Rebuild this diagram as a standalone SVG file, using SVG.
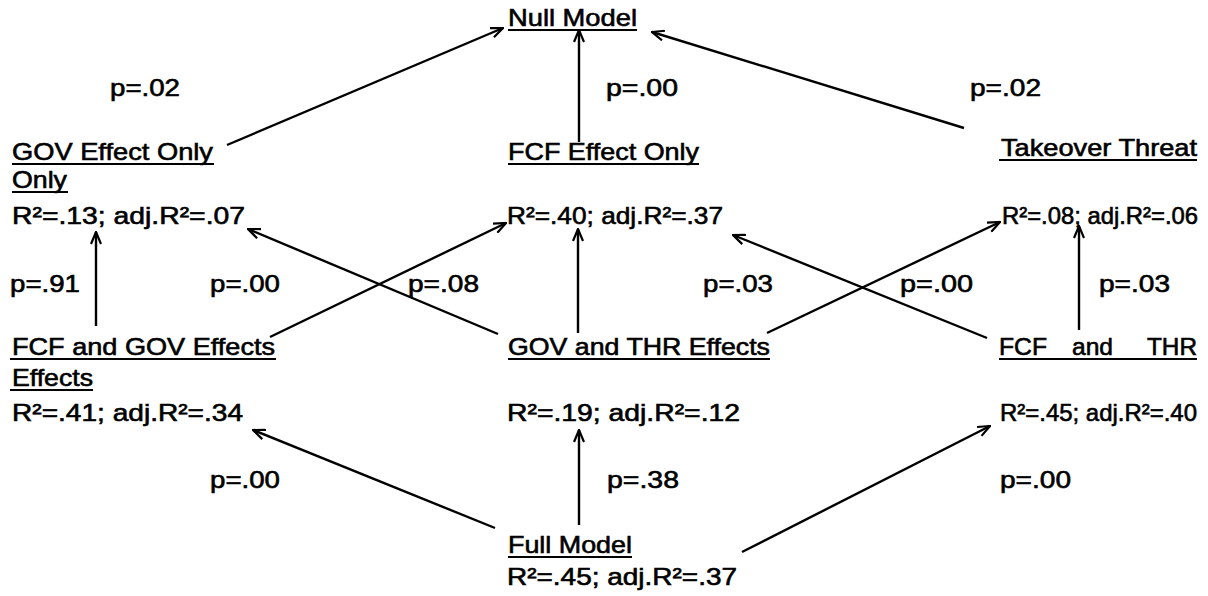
<svg xmlns="http://www.w3.org/2000/svg" width="1208" height="596" viewBox="0 0 1208 596">
  <style>
    text { font-family: "Liberation Sans", Arial, sans-serif; font-size: 24px; fill: #000; stroke: #000; stroke-width: 0.6px; }
    .ul { stroke: #000; stroke-width: 2; }
    .edge { stroke: #000; stroke-width: 2.4; fill: none; marker-end: url(#arrow); }
  </style>
  <defs>
    <marker id="arrow" viewBox="0 0 14 12" refX="13" refY="6" markerWidth="14" markerHeight="12" markerUnits="userSpaceOnUse" orient="auto">
      <path d="M1,1 L13,6 L1,11" fill="none" stroke="#000" stroke-width="2.2"/>
    </marker>
  </defs>
  <rect width="1208" height="596" fill="#fff"/>

  <!-- connectors -->
  <g id="connectors">
    <line class="edge" x1="227" y1="145" x2="503" y2="28"/>
    <line class="edge" x1="579" y1="142" x2="579" y2="30"/>
    <line class="edge" x1="964" y1="128" x2="652" y2="32"/>
    <line class="edge" x1="96" y1="326" x2="96" y2="232"/>
    <line class="edge" x1="498" y1="334" x2="248" y2="229"/>
    <line class="edge" x1="270" y1="337" x2="506" y2="223"/>
    <line class="edge" x1="578" y1="333" x2="578" y2="229"/>
    <line class="edge" x1="987" y1="338" x2="733" y2="235"/>
    <line class="edge" x1="767" y1="333" x2="1000" y2="222"/>
    <line class="edge" x1="1079" y1="330" x2="1079" y2="226"/>
    <line class="edge" x1="495" y1="528" x2="253" y2="430"/>
    <line class="edge" x1="579" y1="525" x2="579" y2="430"/>
    <line class="edge" x1="742" y1="552" x2="990" y2="426"/>
  </g>

  <!-- p-values on the connectors -->
  <g id="pvalues">
    <text x="110" y="96" textLength="70" lengthAdjust="spacingAndGlyphs">p=.02</text>
    <text x="606" y="96" textLength="72" lengthAdjust="spacingAndGlyphs">p=.00</text>
    <text x="970" y="96" textLength="71" lengthAdjust="spacingAndGlyphs">p=.02</text>
    <text x="10" y="292" textLength="70" lengthAdjust="spacingAndGlyphs">p=.91</text>
    <text x="210" y="292" textLength="70" lengthAdjust="spacingAndGlyphs">p=.00</text>
    <text x="408" y="292" textLength="71" lengthAdjust="spacingAndGlyphs">p=.08</text>
    <text x="703" y="292" textLength="70" lengthAdjust="spacingAndGlyphs">p=.03</text>
    <text x="900" y="292" textLength="73" lengthAdjust="spacingAndGlyphs">p=.00</text>
    <text x="1099" y="292" textLength="71" lengthAdjust="spacingAndGlyphs">p=.03</text>
    <text x="210" y="488" textLength="70" lengthAdjust="spacingAndGlyphs">p=.00</text>
    <text x="607" y="488" textLength="72" lengthAdjust="spacingAndGlyphs">p=.38</text>
    <text x="1000" y="488" textLength="71" lengthAdjust="spacingAndGlyphs">p=.00</text>
  </g>

  <!-- models -->
  <g id="null-model">
    <text x="508" y="26" textLength="129" lengthAdjust="spacingAndGlyphs">Null Model</text>
    <line class="ul" x1="508" y1="30" x2="637" y2="30"/>
  </g>

  <g id="gov-only">
    <text x="12" y="160" textLength="201" lengthAdjust="spacingAndGlyphs">GOV Effect Only</text>
    <line class="ul" x1="12" y1="164" x2="214" y2="164"/>
    <text x="12" y="188" textLength="55" lengthAdjust="spacingAndGlyphs">Only</text>
    <line class="ul" x1="12" y1="192" x2="68" y2="192"/>
    <text x="12" y="224" textLength="233" lengthAdjust="spacingAndGlyphs">R²=.13; adj.R²=.07</text>
  </g>

  <g id="fcf-only">
    <text x="508" y="160" textLength="191" lengthAdjust="spacingAndGlyphs">FCF Effect Only</text>
    <line class="ul" x1="508" y1="164" x2="699" y2="164"/>
    <text x="507" y="224" textLength="216" lengthAdjust="spacingAndGlyphs">R²=.40; adj.R²=.37</text>
  </g>

  <g id="takeover">
    <text x="1001" y="156" textLength="196" lengthAdjust="spacingAndGlyphs">Takeover Threat</text>
    <line class="ul" x1="999" y1="160" x2="1197" y2="160"/>
    <text x="1002" y="224" textLength="196" lengthAdjust="spacingAndGlyphs">R²=.08; adj.R²=.06</text>
  </g>

  <g id="fcf-gov">
    <text x="12" y="355" textLength="263" lengthAdjust="spacingAndGlyphs">FCF and GOV Effects</text>
    <line class="ul" x1="10" y1="359" x2="276" y2="359"/>
    <text x="12" y="386" textLength="81" lengthAdjust="spacingAndGlyphs">Effects</text>
    <line class="ul" x1="10" y1="390" x2="93" y2="390"/>
    <text x="12" y="421" textLength="231" lengthAdjust="spacingAndGlyphs">R²=.41; adj.R²=.34</text>
  </g>

  <g id="gov-thr">
    <text x="508" y="355" textLength="262" lengthAdjust="spacingAndGlyphs">GOV and THR Effects</text>
    <line class="ul" x1="508" y1="359" x2="770" y2="359"/>
    <text x="507" y="421" textLength="233" lengthAdjust="spacingAndGlyphs">R²=.19; adj.R²=.12</text>
  </g>

  <g id="fcf-thr">
    <text x="999" y="355" textLength="48" lengthAdjust="spacingAndGlyphs">FCF</text>
    <text x="1072" y="355" textLength="41" lengthAdjust="spacingAndGlyphs">and</text>
    <text x="1147" y="355" textLength="50" lengthAdjust="spacingAndGlyphs">THR</text>
    <line class="ul" x1="999" y1="359" x2="1197" y2="359"/>
    <text x="1000" y="421" textLength="197" lengthAdjust="spacingAndGlyphs">R²=.45; adj.R²=.40</text>
  </g>

  <g id="full-model">
    <text x="508" y="553" textLength="124" lengthAdjust="spacingAndGlyphs">Full Model</text>
    <line class="ul" x1="508" y1="557" x2="632" y2="557"/>
    <text x="507" y="585" textLength="230" lengthAdjust="spacingAndGlyphs">R²=.45; adj.R²=.37</text>
  </g>
</svg>
